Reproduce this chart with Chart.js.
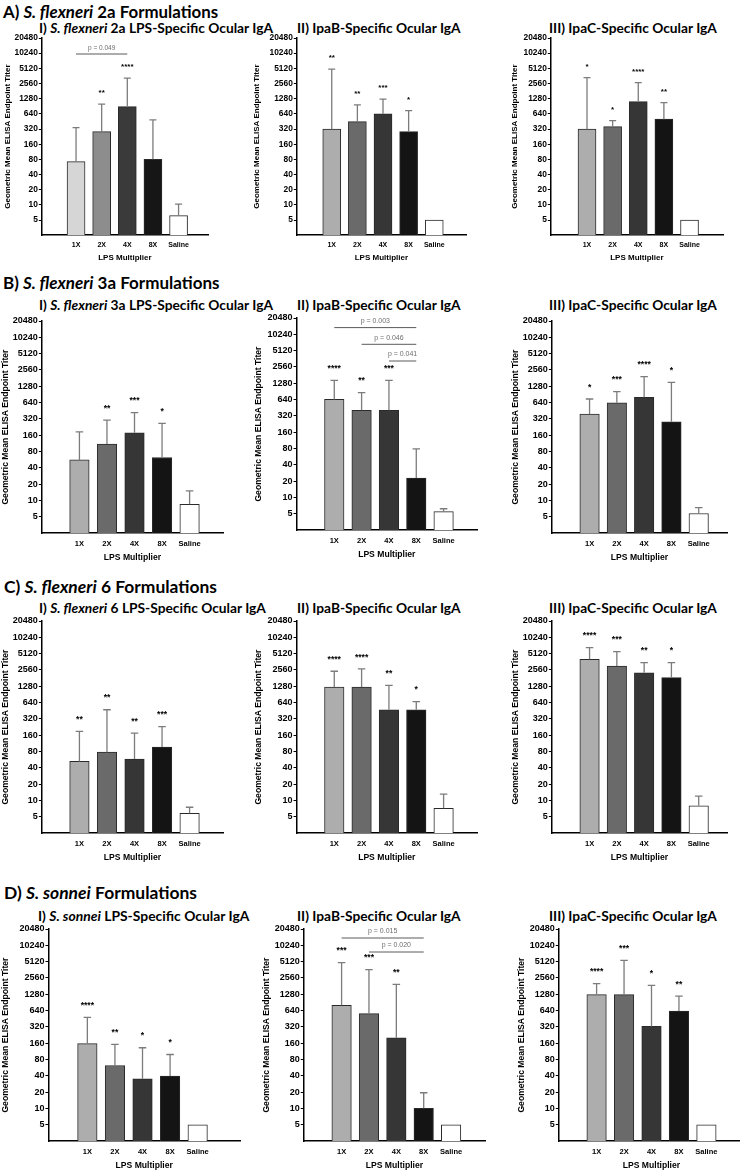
<!DOCTYPE html>
<html>
<head>
<meta charset="utf-8">
<script src="https://cdn.jsdelivr.net/npm/chart.js@4/dist/chart.umd.min.js"></script>
<style>
  body { margin: 0; background: #fff; }
  #page { position: relative; width: 740px; height: 1171px; overflow: hidden; background: #fff; }
  #page canvas { position: absolute; }
  .ttl { position: absolute; white-space: nowrap; font-family: Lato, "Open Sans", sans-serif; font-weight: 700;
         line-height: 1; transform-origin: left center; color: #000; }
</style>
</head>
<body>
<div id="page"></div>
<script>
const cats = ['1X', '2X', '4X', '8X', 'Saline'];
const yTicks = [5, 10, 20, 40, 80, 160, 320, 640, 1280, 2560, 5120, 10240, 20480];

// A) S. flexneri 2a
const a1Mean = [72, 284, 893, 80, 6.1];
const a1Err = [341, 997, 3265, 485, 10.3];
const a1Stars = ['', '**', '****', '', ''];
const a1P = [[0, 2, 'p = 0.049']];

const a2Mean = [318, 449, 640, 284, 5];
const a2Err = [4940, 963, 1250, 741, null];
const a2Stars = ['**', '**', '***', '*', ''];

const a3Mean = [318, 357, 1120, 502, 5];
const a3Err = [3356, 470, 2670, 1070, null];
const a3Stars = ['*', '*', '****', '**', ''];

// B) S. flexneri 3a
const b1Mean = [56, 110, 178, 62, 8.5];
const b1Err = [185, 305, 417, 265, 15.1];
const b1Stars = ['', '**', '***', '*', ''];

const b2Mean = [645, 405, 405, 22.8, 5.5];
const b2Err = [1450, 857, 1450, 79, 6.2];
const b2Stars = ['****', '**', '***', '', ''];
const b2P = [[0, 3, 'p = 0.003'], [1, 3, 'p = 0.046'], [2, 3, 'p = 0.041']];

const b3Mean = [394, 636, 800, 284, 5.75];
const b3Err = [745, 1018, 1927, 1512, 7.4];
const b3Stars = ['*', '***', '****', '*', ''];

// C) S. flexneri 6
const c1Mean = [52.5, 78, 58, 96.6, 5.8];
const c1Err = [188, 472, 175, 230, 7.5];
const c1Stars = ['**', '**', '**', '***', ''];

const c2Mean = [1240, 1240, 472, 472, 7.2];
const c2Err = [2420, 2670, 1335, 667, 13.1];
const c2Stars = ['****', '****', '**', '*', ''];

const c3Mean = [4016, 3025, 2277, 1848, 8];
const c3Err = [6615, 5566, 3495, 3495, 12];
const c3Stars = ['****', '***', '**', '*', ''];

// D) S. sonnei
const d1Mean = [157, 62, 35.3, 39.6, 5];
const d1Err = [480, 152, 132, 99, null];
const d1Stars = ['****', '**', '*', '*', ''];

const d2Mean = [800, 561, 202, 10.1, 5];
const d2Err = [4900, 3645, 1953, 19.5, null];
const d2Stars = ['***', '***', '**', '', ''];
const d2P = [[0, 3, 'p = 0.015'], [1, 3, 'p = 0.020']];

const d3Mean = [1260, 1260, 327, 627, 5];
const d3Err = [2010, 5415, 1871, 1186, null];
const d3Stars = ['****', '***', '*', '**', ''];

const paleGreys = ['#d6d6d6', '#8d8d8d', '#3a3a3a', '#161616', '#ffffff'];
const greys = ['#adadad', '#6a6a6a', '#363636', '#141414', '#ffffff'];

const yTitle = 'Geometric Mean ELISA Endpoint Titer';
const xTitle = 'LPS Multiplier';

// section headers and panel titles
const titles = [
  { html: 'A) <i>S. flexneri</i> 2a Formulations', x: 3, y: 12, w: 215, fs: 17 },
  { html: 'I) <i>S. flexneri</i> 2a LPS-Specific Ocular IgA', x: 39, y: 28.5, w: 234, fs: 14 },
  { html: 'II) IpaB-Specific Ocular IgA', x: 297, y: 28.5, w: 164, fs: 14 },
  { html: 'III) IpaC-Specific Ocular IgA', x: 549, y: 28.5, w: 168, fs: 14 },
  { html: 'B) <i>S. flexneri</i> 3a Formulations', x: 3, y: 283, w: 217, fs: 17 },
  { html: 'I) <i>S. flexneri</i> 3a LPS-Specific Ocular IgA', x: 39, y: 305, w: 234, fs: 14 },
  { html: 'II) IpaB-Specific Ocular IgA', x: 297, y: 305, w: 164, fs: 14 },
  { html: 'III) IpaC-Specific Ocular IgA', x: 549, y: 305, w: 168, fs: 14 },
  { html: 'C) <i>S. flexneri</i> 6 Formulations', x: 4, y: 587, w: 213, fs: 17 },
  { html: 'I) <i>S. flexneri</i> 6 LPS-Specific Ocular IgA', x: 39, y: 608, w: 227, fs: 14 },
  { html: 'II) IpaB-Specific Ocular IgA', x: 297, y: 608, w: 164, fs: 14 },
  { html: 'III) IpaC-Specific Ocular IgA', x: 549, y: 608, w: 168, fs: 14 },
  { html: 'D) <i>S. sonnei</i> Formulations', x: 4, y: 893, w: 193, fs: 17 },
  { html: 'I) <i>S. sonnei</i> LPS-Specific Ocular IgA', x: 38, y: 916, w: 211, fs: 14 },
  { html: 'II) IpaB-Specific Ocular IgA', x: 297, y: 916, w: 164, fs: 14 },
  { html: 'III) IpaC-Specific Ocular IgA', x: 549, y: 916, w: 168, fs: 14 }
];

// plot boxes: axis line x, x-axis end, pixel of value 5, px per doubling, y-title gap, bar centres
const panels = [
  { mean: a1Mean, err: a1Err, stars: a1Stars, p: a1P, colors: paleGreys, axisX: 42, right: 208, y5: 220, d: 15.15, gap: 34, barW: 18, c0: 64, step: 32, s: 1, bTop: 16, bGap: 0 },
  { mean: a2Mean, err: a2Err, stars: a2Stars, colors: greys, axisX: 297, right: 466, y5: 220, d: 15.15, gap: 40, barW: 18, c0: 319.5, step: 32, s: 1 },
  { mean: a3Mean, err: a3Err, stars: a3Stars, colors: greys, axisX: 551, right: 723, y5: 220, d: 15.15, gap: 36, barW: 18, c0: 574.7, step: 32, s: 1 },
  { mean: b1Mean, err: b1Err, stars: b1Stars, colors: greys, axisX: 41.7, right: 222.7, y5: 516.7, d: 16.3, gap: 36.7, barW: 19.5, c0: 66, step: 34.4, s: 1.075 },
  { mean: b2Mean, err: b2Err, stars: b2Stars, p: b2P, colors: greys, axisX: 296.7, right: 477.3, y5: 513.3, d: 16.3, gap: 38.4, barW: 19.5, c0: 321.3, step: 34.2, s: 1.075, bTop: 9.6, bGap: 16.7 },
  { mean: b3Mean, err: b3Err, stars: b3Stars, colors: greys, axisX: 551.7, right: 727.3, y5: 516.7, d: 16.3, gap: 36.7, barW: 19.5, c0: 577, step: 34.2, s: 1.075 },
  { mean: c1Mean, err: c1Err, stars: c1Stars, colors: greys, axisX: 41.7, right: 222.7, y5: 817, d: 16.3, gap: 36.7, barW: 19.5, c0: 66, step: 34.4, s: 1.075 },
  { mean: c2Mean, err: c2Err, stars: c2Stars, colors: greys, axisX: 296.7, right: 477.3, y5: 817, d: 16.3, gap: 38.4, barW: 19.5, c0: 321.3, step: 34.2, s: 1.075 },
  { mean: c3Mean, err: c3Err, stars: c3Stars, colors: greys, axisX: 551.7, right: 727.3, y5: 817, d: 16.3, gap: 36.7, barW: 19.5, c0: 577, step: 34.2, s: 1.075 },
  { mean: d1Mean, err: d1Err, stars: d1Stars, colors: greys, axisX: 48.3, right: 240, y5: 1124.3, d: 16.3, gap: 43.3, barW: 19.5, c0: 73, step: 34.5, s: 1.075 },
  { mean: d2Mean, err: d2Err, stars: d2Stars, p: d2P, colors: greys, axisX: 303.3, right: 485, y5: 1124.3, d: 16.3, gap: 37.6, barW: 19.5, c0: 328, step: 34.3, s: 1.075, bTop: 9, bGap: 14 },
  { mean: d3Mean, err: d3Err, stars: d3Stars, colors: greys, axisX: 558.3, right: 744, y5: 1124.3, d: 16.3, gap: 37.6, barW: 19.5, c0: 582.5, step: 34.4, s: 1.075 }
];

const FONT = '"Liberation Sans", Arial, sans-serif';

// upper error bars, significance stars and p-value brackets
const marks = {
  id: 'marks',
  afterDatasetsDraw(chart, args, opts) {
    const { ctx, chartArea, scales: { y } } = chart;
    const bars = chart.getDatasetMeta(0).data;
    const s = opts.s;
    ctx.save();
    ctx.lineCap = 'butt';
    opts.err.forEach((e, i) => {
      if (e == null) return;
      const bx = bars[i].x, ey = y.getPixelForValue(e);
      ctx.strokeStyle = '#7c7c7c';
      ctx.lineWidth = 1.3;
      ctx.beginPath();
      ctx.moveTo(bx, bars[i].y);
      ctx.lineTo(bx, ey);
      ctx.moveTo(bx - 3.5 * s, ey);
      ctx.lineTo(bx + 3.5 * s, ey);
      ctx.stroke();
      if (opts.stars[i]) {
        ctx.fillStyle = '#000';
        ctx.font = `bold ${8 * s}px ${FONT}`;
        ctx.textAlign = 'center';
        ctx.textBaseline = 'middle';
        ctx.fillText(opts.stars[i], bx, ey - 11 * s);
      }
    });
    (opts.p || []).forEach(([a, b, label], k) => {
      const ly = chartArea.top + opts.bTop + k * opts.bGap;
      const x1 = bars[a].x, x2 = bars[b].x;
      ctx.strokeStyle = '#5a5a5a';
      ctx.lineWidth = 1;
      ctx.beginPath();
      ctx.moveTo(x1, ly);
      ctx.lineTo(x2, ly);
      ctx.stroke();
      ctx.fillStyle = '#6e6e6e';
      ctx.font = `${6.5 * s}px ${FONT}`;
      ctx.textAlign = 'center';
      ctx.textBaseline = 'middle';
      ctx.fillText(label, (x1 + x2) / 2, ly - 6 * s);
    });
    ctx.restore();
  }
};

const page = document.getElementById('page');

titles.forEach(t => {
  const el = document.createElement('div');
  el.className = 'ttl';
  el.innerHTML = t.html;
  el.style.fontSize = t.fs + 'px';
  el.style.left = t.x + 'px';
  el.style.top = (t.y - 0.53 * t.fs) + 'px';
  el.dataset.w = t.w;
  page.appendChild(el);
});

function fitTitles() {
  document.querySelectorAll('.ttl').forEach(el => {
    el.style.transform = 'none';
    el.style.transform = `scaleX(${el.dataset.w / el.offsetWidth})`;
  });
}
fitTitles();
if (document.fonts) document.fonts.ready.then(fitTitles);

panels.forEach(p => {
  const s = p.s;
  const top = p.y5 - 12 * p.d;
  const bottom = p.y5 + p.d;
  const yW = p.gap + 4.8 * s;
  const xH = 23 * s + 4.8 * s;
  const padTop = 10, padRight = 8, padBottom = 2;
  const left = p.axisX - yW;
  const cTop = top - padTop;
  const w = Math.round(p.right + padRight - left);
  const h = Math.round(bottom + xH + padBottom - cTop);

  const canvas = document.createElement('canvas');
  canvas.width = w;
  canvas.height = h;
  canvas.style.left = left + 'px';
  canvas.style.top = cTop + 'px';
  canvas.style.width = w + 'px';
  canvas.style.height = h + 'px';
  page.appendChild(canvas);

  const lastC = p.c0 + 4 * p.step;

  new Chart(canvas, {
    type: 'bar',
    data: {
      datasets: [{
        data: p.mean.map((v, i) => ({ x: i, y: v })),
        backgroundColor: p.colors,
        borderColor: '#2a2a2a',
        borderWidth: 1,
        borderSkipped: 'bottom',
        barThickness: p.barW
      }]
    },
    options: {
      responsive: false,
      animation: false,
      devicePixelRatio: 1,
      layout: { padding: { top: padTop, right: padRight, bottom: padBottom, left: 0 } },
      plugins: {
        legend: { display: false },
        tooltip: { enabled: false },
        marks: { err: p.err, stars: p.stars, p: p.p, bTop: p.bTop, bGap: p.bGap, s }
      },
      scales: {
        x: {
          type: 'linear',
          min: -(p.c0 - p.axisX) / p.step,
          max: 4 + (p.right - lastC) / p.step,
          afterBuildTicks: sc => { sc.ticks = cats.map((c, i) => ({ value: i })); },
          afterFit: sc => { sc.height = xH; },
          grid: { display: false, drawTicks: false },
          border: { display: true, color: '#000', width: 1.5 },
          ticks: {
            padding: 6,
            autoSkip: false,
            maxRotation: 0,
            color: '#000',
            font: { family: FONT, size: 7 * s, weight: 'bold' },
            callback: v => cats[v]
          },
          title: {
            display: true,
            text: xTitle,
            color: '#000',
            padding: 0,
            font: { family: FONT, size: 8 * s, weight: 'bold' }
          }
        },
        y: {
          type: 'logarithmic',
          min: 2.5,
          max: 20480,
          afterBuildTicks: sc => { sc.ticks = yTicks.map(v => ({ value: v })); },
          afterFit: sc => { sc.width = yW; },
          grid: { drawOnChartArea: false, drawTicks: true, tickLength: 3, color: '#000', lineWidth: 1 },
          border: { display: true, color: '#000', width: 1.5 },
          ticks: {
            padding: 1,
            autoSkip: false,
            color: '#000',
            font: { family: FONT, size: 8.4 * s, weight: 'bold' },
            callback: v => String(v)
          },
          title: {
            display: true,
            text: yTitle,
            color: '#000',
            padding: 0,
            font: { family: FONT, size: 8 * s, weight: 'bold' }
          }
        }
      }
    },
    plugins: [marks]
  });
});
</script>
</body>
</html>
